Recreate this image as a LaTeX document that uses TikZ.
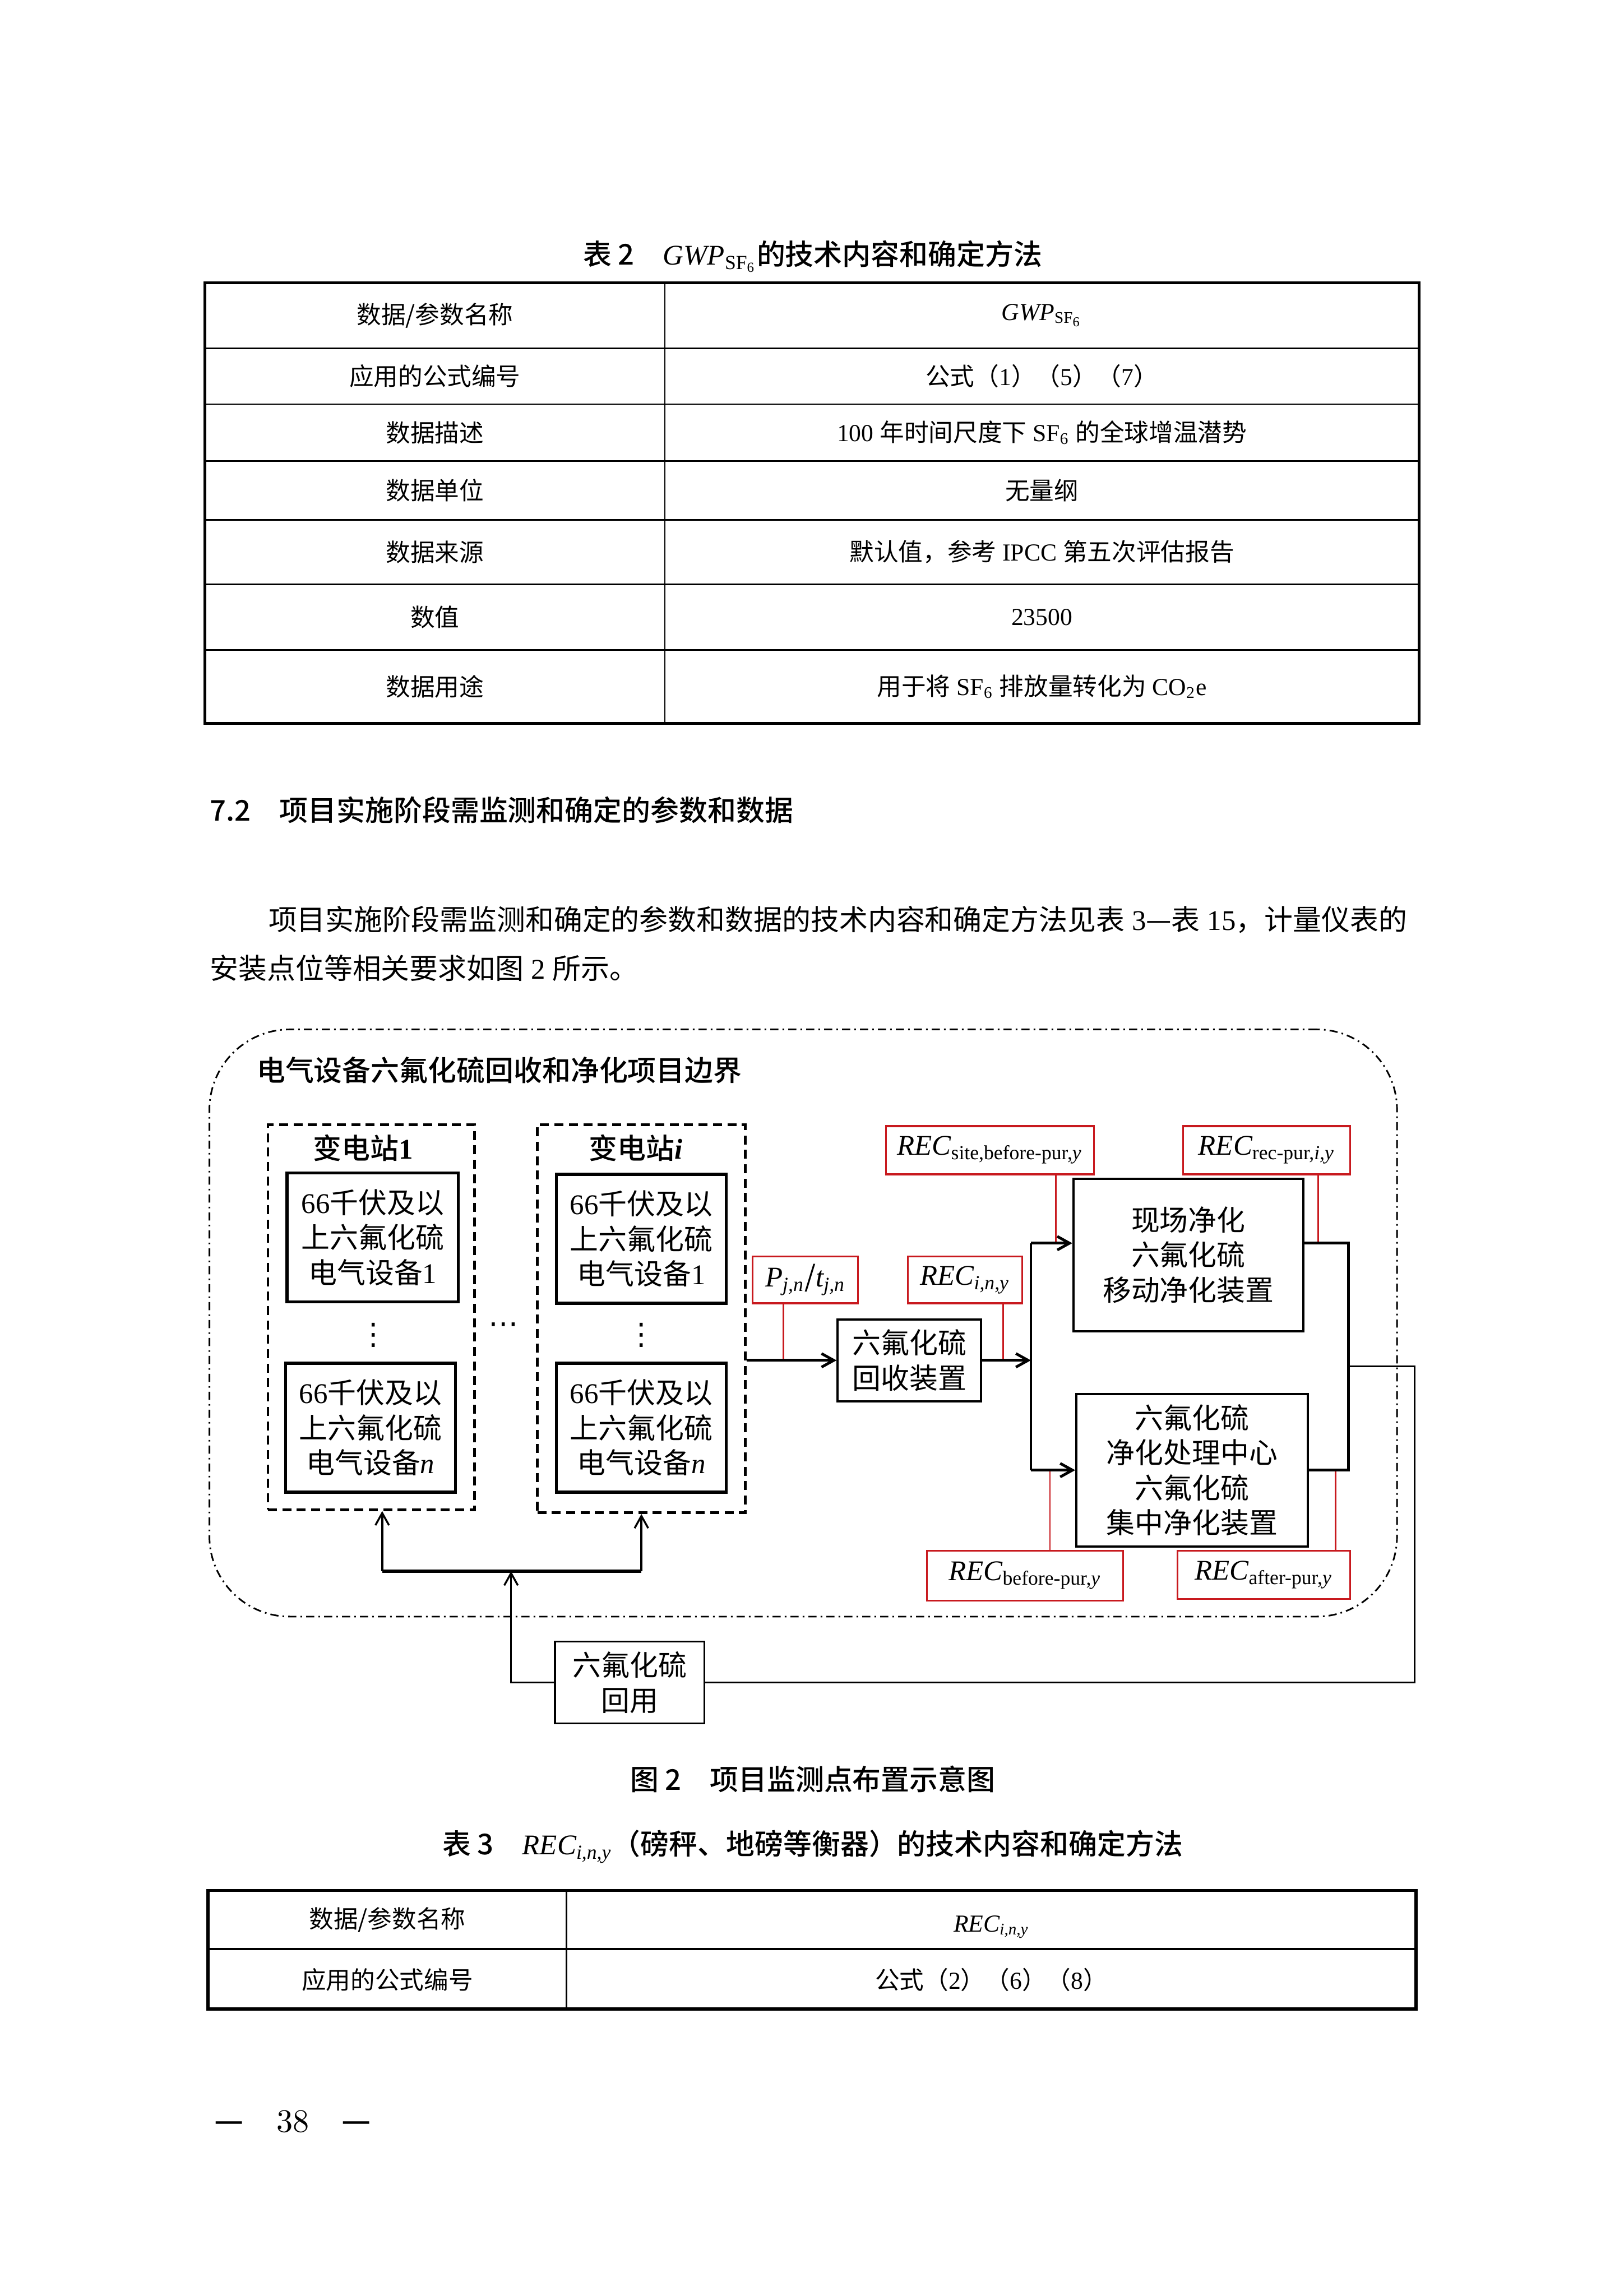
\documentclass[tikz,border=0pt]{standalone}
\usepackage{fontspec}
\setmainfont{Noto Sans CJK SC}[BoldFont={Noto Sans CJK SC Medium}]
\newfontfamily\tnr{Liberation Serif}
\newfontfamily\lmr{lmroman10-regular}[Extension=.otf]
\newfontfamily\djv{DejaVu Sans}
\usepackage{xcolor}
\definecolor{cMain}{HTML}{000000}
\definecolor{cRed}{RGB}{200,25,30}
\usepackage{tikz}
\usetikzlibrary{positioning,arrows.meta,calc}
\newcommand\upx{0.018936cm}
\newcommand\tup[1]{{\tnr #1}}
\newcommand\tit[1]{{\tnr\itshape #1}}
\tikzset{
  sz/.style 2 args={minimum width=#1*\upx,minimum height=#2*\upx},
  node-box/.style={draw=cMain,line width=0.8pt,inner sep=0pt,align=center},
  node-dev/.style={node-box,line width=1.1pt},
  node-site/.style={draw=cMain,line width=1pt,dash pattern=on 3.3pt off 2pt,inner sep=0pt},
  node-meter/.style={draw=cRed,line width=0.7pt,inner sep=0pt},
  node-bound/.style={draw=cMain,line width=0.6pt,rounded corners=1.04cm,
    dash pattern=on 3pt off 1.5pt on 0.6pt off 1.5pt,inner sep=0pt},
  node-dots/.style={inner sep=0pt,font=\djv\fontsize{11}{12}\selectfont},
  line-text/.style={anchor=west,inner sep=0pt},
  tab-text/.style={font=\fontsize{9}{11}\selectfont},
  tab-outer/.style={line width=1pt,draw=cMain},
  tab-inner/.style={line width=0.6pt,draw=cMain},
  arrow/.style={-{Straight Barb[length=4.5pt,width=5pt]},line width=1pt,draw=cMain},
  arrow-thin/.style={-{Straight Barb[length=4.5pt,width=5pt]},line width=0.7pt,draw=cMain},
  flow/.style={line width=1pt,draw=cMain},
  flow-back/.style={line width=0.7pt,draw=cMain},
  bus/.style={line width=1.4pt,draw=cMain},
  tap/.style={draw=cRed,line width=0.6pt},
}

\begin{document}
\begin{tikzpicture}[x=0.018936cm,y=-0.018936cm,font=\fontsize{10.5}{12.9}\selectfont]
  \fill[white] (0,0) rectangle (1109,1568);
  \useasboundingbox (0,0) rectangle (1109,1568);

  % 表 2
  \node (cap-tab2) at (555,175) {{\bfseries 表 2}\hspace{1em}\tit{GWP}\textsubscript{\tup{SF\textsubscript{6}}}{\bfseries 的技术内容和确定方法}};
  \draw[tab-outer] (140,193) rectangle (969,494);
  \draw[tab-inner] (454,193) -- (454,494);
  \foreach \y in {238,276,315,355,399,444}
    \draw[tab-inner] (140,\y) -- (969,\y);
  \foreach \y/\a/\b [count=\k] in {
      215.5/{数据/参数名称}/{\tit{GWP}\textsubscript{\tup{SF\textsubscript{6}}}},
      257/{应用的公式编号}/{公式（\tup{1}）（\tup{5}）（\tup{7}）},
      295.5/{数据描述}/{\tup{100 }年时间尺度下\tup{ SF\textsubscript{6} }的全球增温潜势},
      335/{数据单位}/{无量纲},
      377/{数据来源}/{默认值，参考\tup{ IPCC }第五次评估报告},
      421.5/{数值}/{\tup{23500}},
      469/{数据用途}/{用于将\tup{ SF\textsubscript{6} }排放量转化为\tup{ CO\textsubscript{2}e}}}
  {
    \node[tab-text] (t2l\k) at (297,\y) {\a};
    \node[tab-text] (t2r\k) at (711.5,\y) {\b};
  }

  \node[line-text] (sec72) at (143,553) {\bfseries 7.2\hspace{1em}项目实施阶段需监测和确定的参数和数据};
  \node[line-text] (para1) at (183,628) {项目实施阶段需监测和确定的参数和数据的技术内容和确定方法见表\tup{ 3}—表\tup{ 15}，计量仪表的};
  \node[line-text] (para2) at (143,661) {安装点位等相关要求如图\tup{ 2 }所示。};

  % 图 2
  \node[node-bound,sz={811}{401}] (bound) at (548.5,903.5) {};
  \node[line-text] (bound-title) at (175,731) {\bfseries 电气设备六氟化硫回收和净化项目边界};

  \node[node-site,sz={141}{263}] (site1) at (253.5,899.5) {};
  \node (site1-lbl) at (248,784) {\bfseries 变电站\tup{1}};
  \node[node-dev,sz={117}{88}] (dev11) at (254.5,845) {\tup{66}千伏及以\\上六氟化硫\\电气设备\tup{1}};
  \node[node-dots] (vdots1) at (255,912) {⋮};
  \node[node-dev,sz={116}{88}] (dev1n) at (253,975) {\tup{66}千伏及以\\上六氟化硫\\电气设备\tit{n}};
  \node[node-dots] (hdots) at (344,907) {⋯};
  \node[node-site,sz={142}{265}] (sitei) at (438,900.5) {};
  \node (sitei-lbl) at (434,784) {\bfseries 变电站\tit{i}};
  \node[node-dev,sz={116}{88}] (devi1) at (438,846) {\tup{66}千伏及以\\上六氟化硫\\电气设备\tup{1}};
  \node[node-dots] (vdotsi) at (438,912) {⋮};
  \node[node-dev,sz={116}{88}] (devin) at (438,975) {\tup{66}千伏及以\\上六氟化硫\\电气设备\tit{n}};

  \node[node-box,sz={98}{56}] (recov) at (621,929) {六氟化硫\\回收装置};
  \node[node-meter,sz={72}{32}] (m-p) at (550,874) {\tit{P}\textsubscript{\tit{j,n}}/\tit{t}\textsubscript{\tit{j,n}}};
  \node[node-meter,sz={78}{32}] (m-rin) at (659,874) {\tit{REC}\textsubscript{\tit{i,n,y}}};
  \node[node-box,sz={157}{104}] (mobile) at (811.5,857) {现场净化\\六氟化硫\\移动净化装置};
  \node[node-box,sz={158}{104}] (central) at (814,1004) {六氟化硫\\净化处理中心\\六氟化硫\\集中净化装置};
  \node[node-meter,sz={142}{33}] (m-site) at (676,785.5) {\tit{REC}\textsubscript{\tup{site,before-pur,}\tit{y}}};
  \node[node-meter,sz={114}{33}] (m-recpur) at (865,785.5) {\tit{REC}\textsubscript{\tup{rec-pur,}\tit{i,y}}};
  \node[node-meter,sz={134}{34}] (m-before) at (700,1076) {\tit{REC}\textsubscript{\tup{before-pur,}\tit{y}}};
  \node[node-meter,sz={118}{33}] (m-after) at (863,1075.5) {\tit{REC}\textsubscript{\tup{after-pur,}\tit{y}}};
  \node[node-box,line width=0.7pt,sz={102}{56}] (reuse) at (430,1149) {六氟化硫\\回用};

  \coordinate (tap-p) at (535,929);
  \coordinate (tap-rin) at (685,929);
  \coordinate (split) at (704,929);
  \coordinate (split-top) at (704,849);
  \coordinate (split-bot) at (704,1004);
  \coordinate (tap-site) at (721,849);
  \coordinate (join-top) at (921,849);
  \coordinate (join-bot) at (921,1004);
  \coordinate (tap-recpur) at (900,849);
  \coordinate (tap-before) at (717,1004);
  \coordinate (tap-after) at (912,1004);
  \coordinate (ret-out) at (966,933);
  \coordinate (bus-up) at (349,1073);
  \coordinate (bus-l) at (261,1073);
  \coordinate (bus-r) at (438,1073);

  % 计量点
  \draw[tap] (m-p.south -| tap-p) -- (tap-p);
  \draw[tap] (m-rin.south -| tap-rin) -- (tap-rin);
  \draw[tap] (m-site.south -| tap-site) -- (tap-site);
  \draw[tap] (m-recpur.south -| tap-recpur) -- (tap-recpur);
  \draw[tap] (tap-before) -- (tap-before |- m-before.north);
  \draw[tap] (tap-after) -- (tap-after |- m-after.north);

  \draw[arrow] (recov.west -| sitei.east) -- (recov.west);
  \draw[arrow] (recov.east) -- (split);
  \draw[flow] (split-top) -- (split-bot);
  \draw[arrow] (split-top) -- (split-top -| mobile.west);
  \draw[arrow] (split-bot) -- (central.west);
  \draw[flow] (mobile.east |- join-top) -- (join-top) -- (join-bot) -- (central.east);
  \draw[flow-back] (join-top |- ret-out) -- (ret-out) |- (reuse.east);
  \draw[arrow-thin] (reuse.west) -| (bus-up);
  \draw[bus] (bus-l) -- (bus-r);
  \draw[arrow-thin] (bus-l) -- (bus-l |- site1.south);
  \draw[arrow-thin] (bus-r) -- (sitei.south);

  \node (cap-fig2) at (555,1215) {\bfseries 图 2\hspace{1em}项目监测点布置示意图};

  % 表 3
  \node (cap-tab3) at (555,1261) {{\bfseries 表 3}\hspace{1em}\tit{REC}\textsubscript{\tit{i,n,y}}{\bfseries （磅秤、地磅等衡器）的技术内容和确定方法}};
  \draw[tab-outer,line width=1.2pt] (142,1291) rectangle (967,1372);
  \draw[tab-outer] (142,1331) -- (967,1331);
  \draw[tab-inner] (387,1291) -- (387,1372);
  \node[tab-text] (t3l1) at (264.5,1311) {数据/参数名称};
  \node[tab-text] (t3r1) at (677,1316) {\tit{REC}\textsubscript{\tit{i,n,y}}};
  \node[tab-text] (t3l2) at (264.5,1352) {应用的公式编号};
  \node[tab-text] (t3r2) at (677,1352) {公式（\tup{2}）（\tup{6}）（\tup{8}）};

  \node[font=\fontsize{12}{14}\selectfont] (pageno) at (200,1449) {{\bfseries —}\quad{\lmr 38}\quad{\bfseries —}};
\end{tikzpicture}
\end{document}
